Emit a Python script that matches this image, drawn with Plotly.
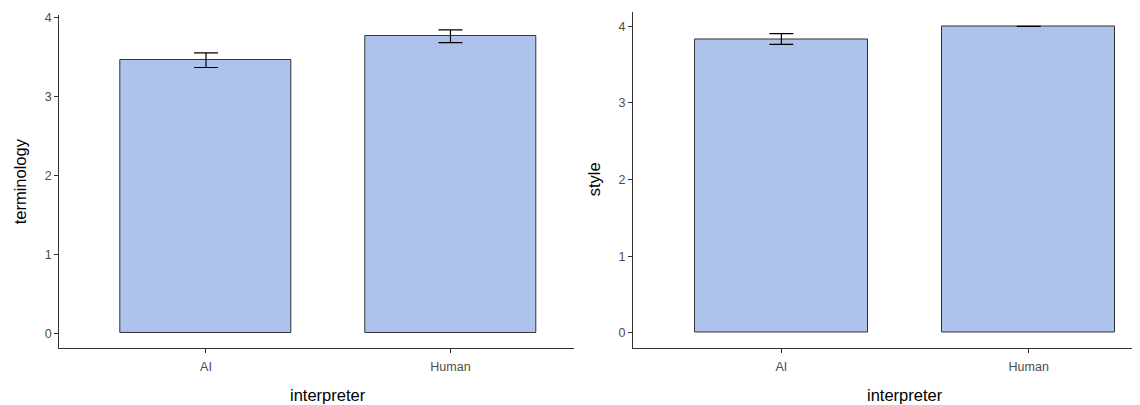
import plotly.graph_objects as go

categories = ["AI", "Human"]
cat_pos = [1, 2]
terminology_mean = [3.458, 3.761]
terminology_se = [0.093, 0.080]
style_mean = [3.835, 4.0]
style_se = [0.069, 0.0]

W, H = 1140, 405
OFF = 8  # page body margin offset
BAR = "#adc3ec"
EDGE = "#333333"

def px(x):
    return (x - OFF) / W

def py(y):
    return min(1.0, 1 - (y - OFF) / H)

fig = go.Figure()

fig.add_trace(go.Bar(
    x=cat_pos, y=terminology_mean, width=0.7,
    marker=dict(color=BAR, line=dict(color=EDGE, width=1)),
    error_y=dict(type="data", array=terminology_se, color="black", thickness=1.2, width=12),
    xaxis="x", yaxis="y", showlegend=False,
))
fig.add_trace(go.Bar(
    x=cat_pos, y=style_mean, width=0.7,
    marker=dict(color=BAR, line=dict(color=EDGE, width=1)),
    error_y=dict(type="data", array=style_se, color="black", thickness=1.2, width=12),
    xaxis="x2", yaxis="y2", showlegend=False,
))

tick_font = dict(family="Liberation Sans, Arial, sans-serif", size=12.5, color="#4d4d4d")
axis_common = dict(
    showline=True, linecolor=EDGE, linewidth=1.1,
    ticks="outside", ticklen=4, tickcolor=EDGE, tickwidth=1.1,
    showgrid=False, zeroline=False, tickfont=tick_font,
    ticklabeloverflow="allow",
)

fig.update_layout(
    width=W, height=H,
    margin=dict(l=0, r=0, t=0, b=0),
    paper_bgcolor="white", plot_bgcolor="white",
    bargap=0,
    xaxis=dict(domain=[px(59.3), px(573.7)], range=[0.4, 2.504],
               tickvals=cat_pos, ticktext=categories, anchor="y",
               ticklabelstandoff=3, **axis_common),
    yaxis=dict(domain=[py(347.8), py(11)], range=[-0.192, 4.03],
               tickvals=[0, 1, 2, 3, 4], anchor="x", **axis_common),
    xaxis2=dict(domain=[px(633), px(1140)], range=[0.4, 2.45],
                tickvals=cat_pos, ticktext=categories, anchor="y2",
                ticklabelstandoff=3, **axis_common),
    yaxis2=dict(domain=[py(347.5), py(8.5)], range=[-0.2, 4.181],
                tickvals=[0, 1, 2, 3, 4], anchor="x2", **axis_common),
)

title_font = dict(family="Liberation Sans, Arial, sans-serif", size=16.5, color="black")
annots = [
    dict(text="interpreter", x=px(328), y=py(395), textangle=0),
    dict(text="interpreter", x=px(905), y=py(395), textangle=0),
    dict(text="terminology", x=px(20), y=py(179), textangle=-90),
    dict(text="style", x=px(594), y=py(177), textangle=-90),
]
for a in annots:
    fig.add_annotation(xref="paper", yref="paper", showarrow=False,
                       xanchor="center", yanchor="middle", font=title_font, **a)

fig.write_html("out.html")
